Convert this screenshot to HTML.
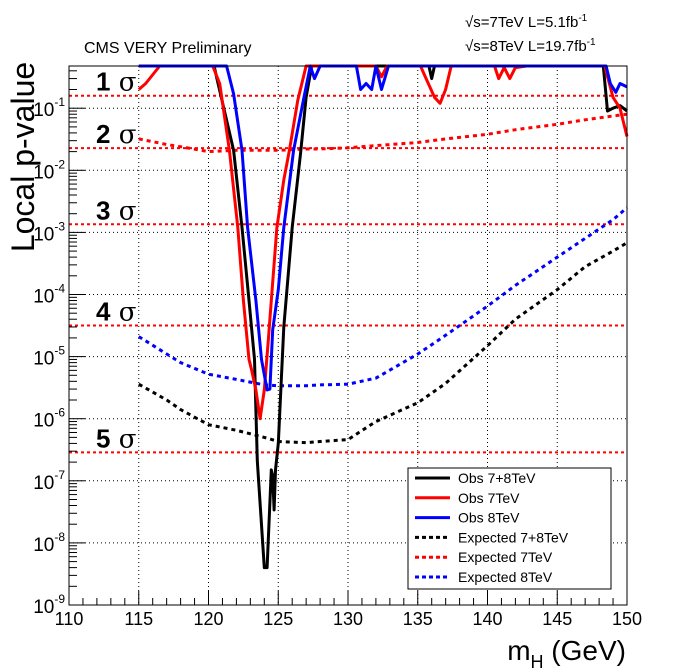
<!DOCTYPE html>
<html><head><meta charset="utf-8"><style>
body{margin:0;background:#fff}
svg{display:block;font-family:"Liberation Sans",sans-serif}
</style></head><body>
<svg id="c" width="696" height="672" xmlns="http://www.w3.org/2000/svg">
<rect width="696" height="672" fill="#fff"/>
<g id="grid"></g>
<g id="sig"></g>
<g id="series"></g>
<rect x="69" y="66" width="558" height="539" fill="none" stroke="#000" stroke-width="1"/>
<g id="axes"></g>
<text x="84" y="53" font-size="16">CMS VERY Preliminary</text>
<text x="465" y="27" font-size="15">√s=7TeV L=5.1fb<tspan font-size="10" dy="-6">-1</tspan></text>
<text x="465" y="51" font-size="15">√s=8TeV L=19.7fb<tspan font-size="10" dy="-6">-1</tspan></text>
<text transform="translate(34,157) rotate(-90)" text-anchor="middle" font-size="32">Local p-value</text>
<text x="626" y="660" text-anchor="end" font-size="28">m<tspan font-size="18" dy="8">H</tspan><tspan dy="-8"> (GeV)</tspan></text>
<g id="legend">
<rect x="408" y="468" width="203" height="121" fill="#fff" stroke="#000"/>
</g>
</svg>
<script>
const massTicks=[110,115,120,125,130,135,140,145,150];
const decades=[-9,-8,-7,-6,-5,-4,-3,-2,-1];
const sigmaNames=["1","2","3","4","5"];
const sigmaP=[0.1587,0.02275,1.35e-3,3.17e-5,2.87e-7];

const obsAllM=[115,120.4,120.6,121.2,121.8,122.4,122.9,123.3,123.5,124.0,124.2,124.5,124.6,124.7,124.8,125.0,125.4,126.0,126.6,127.0,127.4,135.8,136.0,136.2,148.3,148.6,149.0,149.5,150];
const obsAllP=[0.48,0.48,0.3,0.08,0.021,1.2e-3,8e-5,9e-6,2.1e-7,4e-9,4e-9,1.5e-7,1.2e-7,3.4e-8,1.5e-7,4e-7,3e-5,1.2e-3,0.019,0.15,0.48,0.48,0.3,0.48,0.48,0.09,0.1,0.11,0.09];
const obs7M=[115,115.5,116.5,120.3,120.8,121.5,122.1,122.5,122.9,123.1,123.4,123.7,124.0,124.3,124.5,124.9,125.4,125.8,126.4,127.0,132.0,132.4,132.8,135.2,135.6,136.2,136.6,137.0,137.4,140.5,140.8,141.2,141.6,142.0,142.8,148.4,149.0,149.5,150];
const obs7P=[0.2,0.25,0.48,0.48,0.25,0.021,1.2e-3,8e-5,9e-6,6e-6,2.9e-6,1e-6,2.9e-6,2e-5,8e-5,1.2e-3,7e-3,0.021,0.135,0.48,0.48,0.32,0.48,0.48,0.3,0.15,0.12,0.2,0.48,0.48,0.3,0.45,0.3,0.45,0.48,0.48,0.15,0.1,0.035];
const obs8M=[115,121.3,121.8,122.4,122.8,123.4,123.8,124.2,124.4,124.6,125.0,125.4,126.1,126.8,127.3,127.6,128.0,130.6,130.9,131.3,131.7,132.0,132.4,132.9,148.5,148.8,149.2,149.5,150];
const obs8P=[0.48,0.48,0.17,0.021,1.2e-3,8e-5,9e-6,2.9e-6,3e-6,2.7e-5,1.2e-4,1.2e-3,0.021,0.135,0.48,0.3,0.48,0.48,0.2,0.25,0.2,0.48,0.2,0.48,0.48,0.25,0.18,0.25,0.22];
const expM=[115,117,118,120,122,124,125,127,128,130,132,135,137,140,142,145,147,149,150];
const expAllP=[3.6e-6,2e-6,1.4e-6,8e-7,6.5e-7,5e-7,4.3e-7,4.1e-7,4.3e-7,4.6e-7,9e-7,1.8e-6,3.7e-6,1.5e-5,4e-5,1.2e-4,2.8e-4,5e-4,6.8e-4];
const exp7P=[0.032,0.026,0.024,0.02,0.021,0.021,0.021,0.022,0.022,0.023,0.025,0.028,0.032,0.038,0.045,0.055,0.065,0.075,0.08];
const exp8P=[2.1e-5,1.1e-5,8e-6,5.2e-6,4.3e-6,3.5e-6,3.4e-6,3.4e-6,3.5e-6,3.6e-6,4.5e-6,1.1e-5,2.2e-5,6.5e-5,1.4e-4,4e-4,8e-4,1.6e-3,2.5e-3];

const L=69,R=627,T=66,B=605,DEC=62.1;
const X=m=>L+(m-110)*(R-L)/40;
const Y=p=>B-(Math.log10(p)+9)*DEC;
const NS="http://www.w3.org/2000/svg";
function mk(tag,attrs,parent){const e=document.createElementNS(NS,tag);for(const k in attrs)e.setAttribute(k,attrs[k]);parent.appendChild(e);return e;}
const grid=document.getElementById('grid'),axes=document.getElementById('axes'),sig=document.getElementById('sig'),ser=document.getElementById('series'),leg=document.getElementById('legend');

massTicks.forEach(m=>{
  if(m>110&&m<150){const g=mk('line',{x1:X(m),x2:X(m),y1:T,y2:B,stroke:'#000','stroke-dasharray':'1,3','stroke-width':1},grid);
  }
  const t=mk('line',{x1:X(m),x2:X(m),y1:B,y2:B-14,stroke:'#000'},axes);
  
  const tx=mk('text',{x:X(m),y:B+20,'text-anchor':'middle','font-size':18},axes);tx.textContent=m;
  
});
for(let m=111;m<150;m++){if(m%5){const t=mk('line',{x1:X(m),x2:X(m),y1:B,y2:B-7,stroke:'#000'},axes);
  }}
decades.forEach(d=>{
  const y=Y(Math.pow(10,d));
  if(d>-9){const g=mk('line',{x1:L,x2:R,y1:y,y2:y,stroke:'#000','stroke-dasharray':'1,3'},grid);
  }
  const t=mk('line',{x1:L,x2:L+16,y1:y,y2:y,stroke:'#000'},axes);
  
  const tx=mk('text',{x:L-4,y:y+8,'text-anchor':'end','font-size':19},axes);
  tx.innerHTML='10<tspan font-size="12" dy="-10">'+d+'</tspan>';
  
  for(let k=2;k<10;k++){const p=k*Math.pow(10,d);const yy=Y(p);if(yy<T)break;
    const mt=mk('line',{x1:L,x2:L+8,y1:yy,y2:yy,stroke:'#000'},axes);
    }
});
sigmaP.forEach((p,i)=>{
  const l=mk('line',{x1:L,x2:R,y1:Y(p),y2:Y(p),stroke:'#f00','stroke-width':2,'stroke-dasharray':'3,3'},sig);
  
  const t=mk('text',{x:96,y:Y(p)-5,'font-size':26,'font-weight':'bold'},sig);
  t.innerHTML=sigmaNames[i]+'<tspan font-weight="normal" font-family="DejaVu Serif,serif"> σ</tspan>';
  
});
function line(ms,ps,col,dash,name){
  const pts=ms.map((m,i)=>X(m).toFixed(1)+','+Math.max(T,Y(ps[i])).toFixed(1)).join(' ');
  const a={points:pts,fill:'none',stroke:col,'stroke-width':3,'stroke-linejoin':'round'};
  if(dash)a['stroke-dasharray']='4,4';
  const e=mk('polyline',a,ser);
  
}
line(expM,exp7P,'#f00',true,'expected-7tev-line');
line(expM,expAllP,'#000',true,'expected-combined-line');
line(expM,exp8P,'#00f',true,'expected-8tev-line');
line(obsAllM,obsAllP,'#000',false,'obs-combined-line');
line(obs7M,obs7P,'#f00',false,'obs-7tev-line');
line(obs8M,obs8P,'#00f',false,'obs-8tev-line');

const legNames=["Obs 7+8TeV","Obs 7TeV","Obs 8TeV","Expected 7+8TeV","Expected 7TeV","Expected 8TeV"];
const legCols=['#000','#f00','#00f','#000','#f00','#00f'];
legNames.forEach((n,i)=>{
  const y=478+i*19.8;
  const a={x1:415,x2:450,y1:y,y2:y,stroke:legCols[i],'stroke-width':3};
  if(i>2)a['stroke-dasharray']='4,3';
  const l=mk('line',a,leg);
  const t=mk('text',{x:458,y:y+5,'font-size':14},leg);t.textContent=n;
  
});
</script>
</body></html>
